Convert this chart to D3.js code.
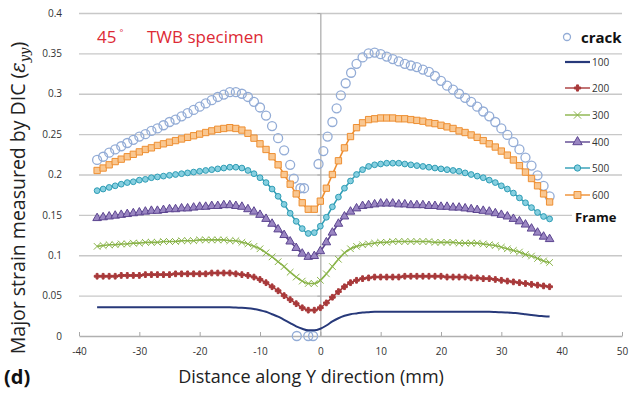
<!DOCTYPE html>
<html>
<head>
<meta charset="utf-8">
<script src="https://cdn.jsdelivr.net/npm/d3@7"></script>
<style>
  body { margin: 0; background: #fff; }
  text { font-family: "Open Sans", "DejaVu Sans", sans-serif; }
</style>
</head>
<body>
<div id="chart"></div>
<script>
// distance along Y (mm), shared by the six frame series
const xs = [-37,-36,-35,-34,-33,-32,-31,-30,-29,-28,-27,-26,-25,-24,-23,-22,-21,-20,-19,-18,
  -17,-16,-15,-14,-13,-12,-11,-10,-9,-8,-7,-6,-5,-4,-3,-2,-1,0,1,2,3,4,5,6,7,8,9,10,11,12,
  13,14,15,16,17,18,19,20,21,22,23,24,25,26,27,28,29,30,31,32,33,34,35,36,37,38];

const s100 = [0.0355,0.0355,0.0355,0.0355,0.0355,0.0355,0.0355,0.0355,0.0355,0.0355,
  0.0355,0.0355,0.0355,0.0355,0.0355,0.0355,0.0355,0.0355,0.0355,0.0355,
  0.0355,0.0355,0.0355,0.0352,0.035,0.0345,0.0335,0.032,0.030,0.027,
  0.024,0.020,0.016,0.012,0.009,0.007,0.007,0.009,0.013,0.018,
  0.022,0.025,0.027,0.028,0.029,0.0295,0.030,0.030,0.030,0.030,
  0.030,0.030,0.030,0.030,0.030,0.030,0.030,0.030,0.030,0.030,
  0.030,0.030,0.030,0.030,0.030,0.030,0.0298,0.0295,0.029,0.0285,
  0.028,0.027,0.026,0.025,0.0245,0.024];
const s200 = [0.074,0.074,0.074,0.074,0.075,0.075,0.075,0.075,0.076,0.076,
  0.076,0.076,0.076,0.077,0.077,0.077,0.077,0.077,0.077,0.078,
  0.078,0.078,0.078,0.077,0.076,0.075,0.073,0.070,0.066,0.061,
  0.056,0.050,0.045,0.040,0.035,0.032,0.032,0.035,0.041,0.048,
  0.055,0.061,0.066,0.069,0.071,0.072,0.073,0.073,0.073,0.073,
  0.073,0.074,0.074,0.074,0.074,0.074,0.074,0.074,0.073,0.073,
  0.073,0.073,0.072,0.072,0.071,0.071,0.070,0.069,0.068,0.067,
  0.066,0.065,0.064,0.063,0.062,0.061];
const s300 = [0.111,0.112,0.113,0.113,0.114,0.114,0.115,0.115,0.116,0.116,
  0.116,0.117,0.117,0.117,0.118,0.118,0.118,0.119,0.119,0.119,
  0.119,0.119,0.118,0.118,0.116,0.114,0.111,0.108,0.103,0.098,
  0.092,0.086,0.079,0.073,0.068,0.065,0.065,0.069,0.077,0.086,
  0.095,0.103,0.108,0.111,0.113,0.114,0.115,0.116,0.116,0.117,
  0.117,0.117,0.117,0.117,0.117,0.117,0.116,0.116,0.116,0.116,
  0.115,0.115,0.115,0.115,0.114,0.113,0.112,0.110,0.108,0.106,
  0.104,0.101,0.099,0.096,0.093,0.091];
const s400 = [0.146,0.147,0.148,0.149,0.150,0.151,0.152,0.153,0.154,0.155,
  0.155,0.156,0.157,0.157,0.158,0.158,0.159,0.160,0.160,0.161,
  0.161,0.162,0.162,0.161,0.160,0.157,0.154,0.150,0.145,0.139,
  0.132,0.125,0.117,0.109,0.102,0.098,0.099,0.105,0.116,0.128,
  0.139,0.148,0.154,0.158,0.161,0.162,0.163,0.164,0.164,0.164,
  0.163,0.163,0.162,0.162,0.162,0.161,0.161,0.160,0.160,0.159,
  0.159,0.158,0.157,0.156,0.155,0.154,0.152,0.150,0.148,0.145,
  0.142,0.138,0.133,0.128,0.123,0.120];
const s500 = [0.180,0.182,0.184,0.186,0.188,0.190,0.191,0.193,0.194,0.196,
  0.197,0.198,0.199,0.200,0.201,0.202,0.203,0.204,0.205,0.206,
  0.207,0.208,0.209,0.209,0.208,0.205,0.201,0.196,0.190,0.182,
  0.173,0.163,0.152,0.142,0.133,0.127,0.128,0.136,0.147,0.160,
  0.172,0.183,0.192,0.200,0.206,0.210,0.212,0.213,0.214,0.214,
  0.214,0.213,0.212,0.211,0.210,0.209,0.208,0.207,0.206,0.205,
  0.204,0.202,0.200,0.198,0.196,0.193,0.190,0.186,0.182,0.177,
  0.171,0.165,0.159,0.153,0.148,0.145];
const s600 = [0.205,0.208,0.212,0.216,0.219,0.222,0.225,0.228,0.231,0.233,
  0.236,0.238,0.240,0.242,0.244,0.246,0.248,0.250,0.252,0.254,
  0.256,0.257,0.258,0.257,0.255,0.251,0.245,0.238,0.231,0.222,
  0.212,0.200,0.188,0.176,0.165,0.157,0.157,0.167,0.183,0.200,
  0.217,0.233,0.247,0.258,0.264,0.268,0.269,0.270,0.270,0.270,
  0.269,0.269,0.268,0.267,0.266,0.264,0.263,0.261,0.259,0.257,
  0.254,0.252,0.249,0.246,0.242,0.238,0.234,0.229,0.224,0.218,
  0.211,0.203,0.195,0.186,0.176,0.166];

// crack series has its own positions
const crackX = [-37,-36,-35,-34,-33,-32,-31,-30,-29,-28,-27,-26,-25,-24,-23,-22,-21,-20,-19,-18,
  -17,-16,-15,-14,-13,-12,-11,-10,-9,-8,-7,-6,-5,
  -4.4,-3.9,-3.3,-2.7,-2,-1.2,-0.3,0.5,1.2,2,2.7,3.4,4.2,5.1,6,7,8,
  9,10,11,12,13,14,15,16,17,18,19,20,21,22,23,24,25,26,27,28,29,30,31,32,33,34,35,36,37,38];
const crackY = [0.218,0.222,0.227,0.231,0.235,0.239,0.243,0.247,0.250,0.254,
  0.257,0.261,0.265,0.268,0.272,0.276,0.280,0.284,0.288,0.292,
  0.296,0.299,0.302,0.302,0.300,0.296,0.290,0.283,0.273,0.260,
  0.245,0.230,0.212,
  0.195,0,0.183,0.183,0,0,0.213,0.229,0.247,0.265,0.282,0.298,0.313,0.326,0.337,0.345,0.350,
  0.351,0.349,0.346,0.343,0.340,0.337,0.335,0.333,0.330,0.327,
  0.322,0.316,0.310,0.305,0.300,0.295,0.290,0.284,0.278,0.272,
  0.265,0.257,0.249,0.240,0.231,0.221,0.211,0.199,0.186,0.173];

const seriesNames = ["100", "200", "300", "400", "500", "600"];
const xTicks = [-40, -30, -20, -10, 0, 10, 20, 30, 40, 50];
const yTicks = [0, 0.05, 0.1, 0.15, 0.2, 0.25, 0.3, 0.35, 0.4];

const W = 629, H = 393;
const margin = {top: 13, right: 7, bottom: 57, left: 79};

const svg = d3.select("#chart").append("svg")
  .attr("width", W).attr("height", H);

const x = d3.scaleLinear().domain([-40, 50]).range([margin.left, W - margin.right]);
const y = d3.scaleLinear().domain([0, 0.4]).range([H - margin.bottom, margin.top]);

// gridlines
svg.append("g")
  .attr("transform", "translate(" + margin.left + ",0)")
  .call(d3.axisLeft(y).tickValues(yTicks.slice(1)).tickSize(-(x.range()[1] - x.range()[0])).tickFormat(""))
  .call(g => g.select(".domain").remove())
  .call(g => g.selectAll("line").attr("stroke", "#c8c8c8").attr("stroke-width", 1.3));

// y tick labels on the left
svg.append("g")
  .attr("transform", "translate(" + margin.left + ",0)")
  .call(d3.axisLeft(y).tickValues(yTicks).tickSize(0).tickPadding(17)
    .tickFormat(d => String(+d.toFixed(2))))
  .call(g => g.select(".domain").remove())
  .call(g => g.selectAll("text").attr("font-size", 10).attr("fill", "#333")
    .attr("font-family", "'Open Sans', sans-serif"));

// vertical axis line through x = 0
svg.append("g")
  .attr("transform", "translate(" + x(0) + ",0)")
  .call(d3.axisLeft(y).tickValues(yTicks).tickSizeInner(3).tickSizeOuter(0).tickFormat(""))
  .call(g => g.select(".domain").attr("stroke", "#a8a8a8").attr("stroke-width", 1.2))
  .call(g => g.selectAll("line").attr("stroke", "#a8a8a8"));

// x axis along y = 0
svg.append("g")
  .attr("transform", "translate(0," + y(0) + ")")
  .call(d3.axisBottom(x).tickValues(xTicks).tickSizeInner(-4).tickSizeOuter(0).tickPadding(12)
    .tickFormat(d => String(d)))
  .call(g => g.select(".domain").attr("stroke", "#b0b0b0").attr("stroke-width", 1.3))
  .call(g => g.selectAll("line").attr("stroke", "#a8a8a8"))
  .call(g => g.selectAll("text").attr("font-size", 10).attr("fill", "#333")
    .attr("font-family", "'Open Sans', sans-serif"));

// marker styles per series
const styles = {
  "100": {color: "#27397a", fill: "none", symbol: null, size: 0, width: 2},
  "200": {color: "#a8393a", fill: "#a8393a", symbol: d3.symbolCross, size: 18, width: 1.6},
  "300": {color: "#8ab44a", fill: "#b9d884", symbol: d3.symbolTimes, size: 30, width: 1.6},
  "400": {color: "#5c4590", fill: "#9a86c2", symbol: d3.symbolTriangle, size: 32, width: 1.6},
  "500": {color: "#2f9db5", fill: "#86cfe0", symbol: d3.symbolCircle, size: 26, width: 1.6},
  "600": {color: "#ee8f32", fill: "#f9c791", symbol: d3.symbolSquare, size: 40, width: 1.6}
};
const seriesValues = {"100": s100, "200": s200, "300": s300, "400": s400, "500": s500, "600": s600};

const line = d3.line()
  .x(d => x(d[0]))
  .y(d => y(d[1]))
  .curve(d3.curveMonotoneX);

// crack circles first
svg.append("g").selectAll("circle")
  .data(crackX.map((v, i) => [v, crackY[i]]))
  .join("circle")
  .attr("cx", d => x(d[0]))
  .attr("cy", d => y(d[1]))
  .attr("r", 4.5)
  .attr("fill", "none")
  .attr("stroke", "#93acd6")
  .attr("stroke-width", 1.3);

seriesNames.forEach(name => {
  const st = styles[name];
  const pts = xs.map((v, i) => [v, seriesValues[name][i]]);
  const g = svg.append("g");
  g.append("path")
    .datum(pts)
    .attr("d", line)
    .attr("fill", "none")
    .attr("stroke", st.color)
    .attr("stroke-width", st.width);
  if (st.symbol) {
    g.selectAll("path.mk")
      .data(pts)
      .join("path")
      .attr("class", "mk")
      .attr("d", d3.symbol().type(st.symbol).size(st.size))
      .attr("transform", d => "translate(" + x(d[0]) + "," + y(d[1]) + ")")
      .attr("fill", st.symbol === d3.symbolTimes ? "none" : st.fill)
      .attr("stroke", st.color)
      .attr("stroke-width", 1);
  }
});

// title
const title = svg.append("text")
  .attr("x", 97).attr("y", 43)
  .attr("font-size", 17)
  .attr("fill", "#dd2a35");
title.append("tspan").text("45");
title.append("tspan").attr("font-size", 9).attr("dy", -7).attr("dx", 3).text("°");
svg.append("text")
  .attr("x", 147).attr("y", 43)
  .attr("font-size", 17)
  .attr("fill", "#dd2a35")
  .text("TWB specimen");

// legend
const legend = svg.append("g");
legend.append("circle")
  .attr("cx", 567).attr("cy", 37).attr("r", 3.5)
  .attr("fill", "none").attr("stroke", "#93acd6").attr("stroke-width", 1.3);
legend.append("text")
  .attr("x", 581).attr("y", 43)
  .attr("font-size", 15).attr("font-weight", "bold").attr("fill", "#111")
  .text("crack");
const legendY = [62, 88, 115, 142, 168, 195];
seriesNames.forEach((name, i) => {
  const st = styles[name];
  const ly = legendY[i];
  legend.append("line")
    .attr("x1", 565).attr("x2", 590).attr("y1", ly).attr("y2", ly)
    .attr("stroke", st.color).attr("stroke-width", name === "100" ? 2.2 : 1.4);
  if (st.symbol) {
    legend.append("path")
      .attr("d", d3.symbol().type(st.symbol).size(st.size * 1.2))
      .attr("transform", "translate(577.5," + ly + ")")
      .attr("fill", st.symbol === d3.symbolTimes ? "none" : st.fill)
      .attr("stroke", st.color).attr("stroke-width", 1);
  }
  legend.append("text")
    .attr("x", 592).attr("y", ly + 4)
    .attr("font-size", 10).attr("fill", "#333")
    .text(name);
});
legend.append("rect")
  .attr("x", 572).attr("y", 208).attr("width", 50).attr("height", 17)
  .attr("fill", "#fff");
legend.append("text")
  .attr("x", 575).attr("y", 222)
  .attr("font-size", 13).attr("font-weight", "bold").attr("fill", "#111")
  .text("Frame");

// axis titles
svg.append("text")
  .attr("x", 311).attr("y", 383)
  .attr("text-anchor", "middle")
  .attr("font-size", 18).attr("fill", "#222")
  .text("Distance along Y direction (mm)");

const yt = svg.append("text")
  .attr("transform", "translate(25,198) rotate(-90)")
  .attr("text-anchor", "middle")
  .attr("font-size", 19.5).attr("fill", "#222");
yt.append("tspan").text("Major strain measured by DIC (");
yt.append("tspan").attr("font-style", "italic").attr("font-family", "'DejaVu Serif', serif").text("ε");
yt.append("tspan").attr("font-style", "italic").attr("font-family", "'DejaVu Serif', serif")
  .attr("font-size", 13).attr("dy", 4).text("yy");
yt.append("tspan").attr("dy", -4).text(")");

svg.append("text")
  .attr("x", 4).attr("y", 384)
  .attr("font-size", 20).attr("font-weight", "bold").attr("fill", "#111")
  .text("(d)");
</script>
</body>
</html>
